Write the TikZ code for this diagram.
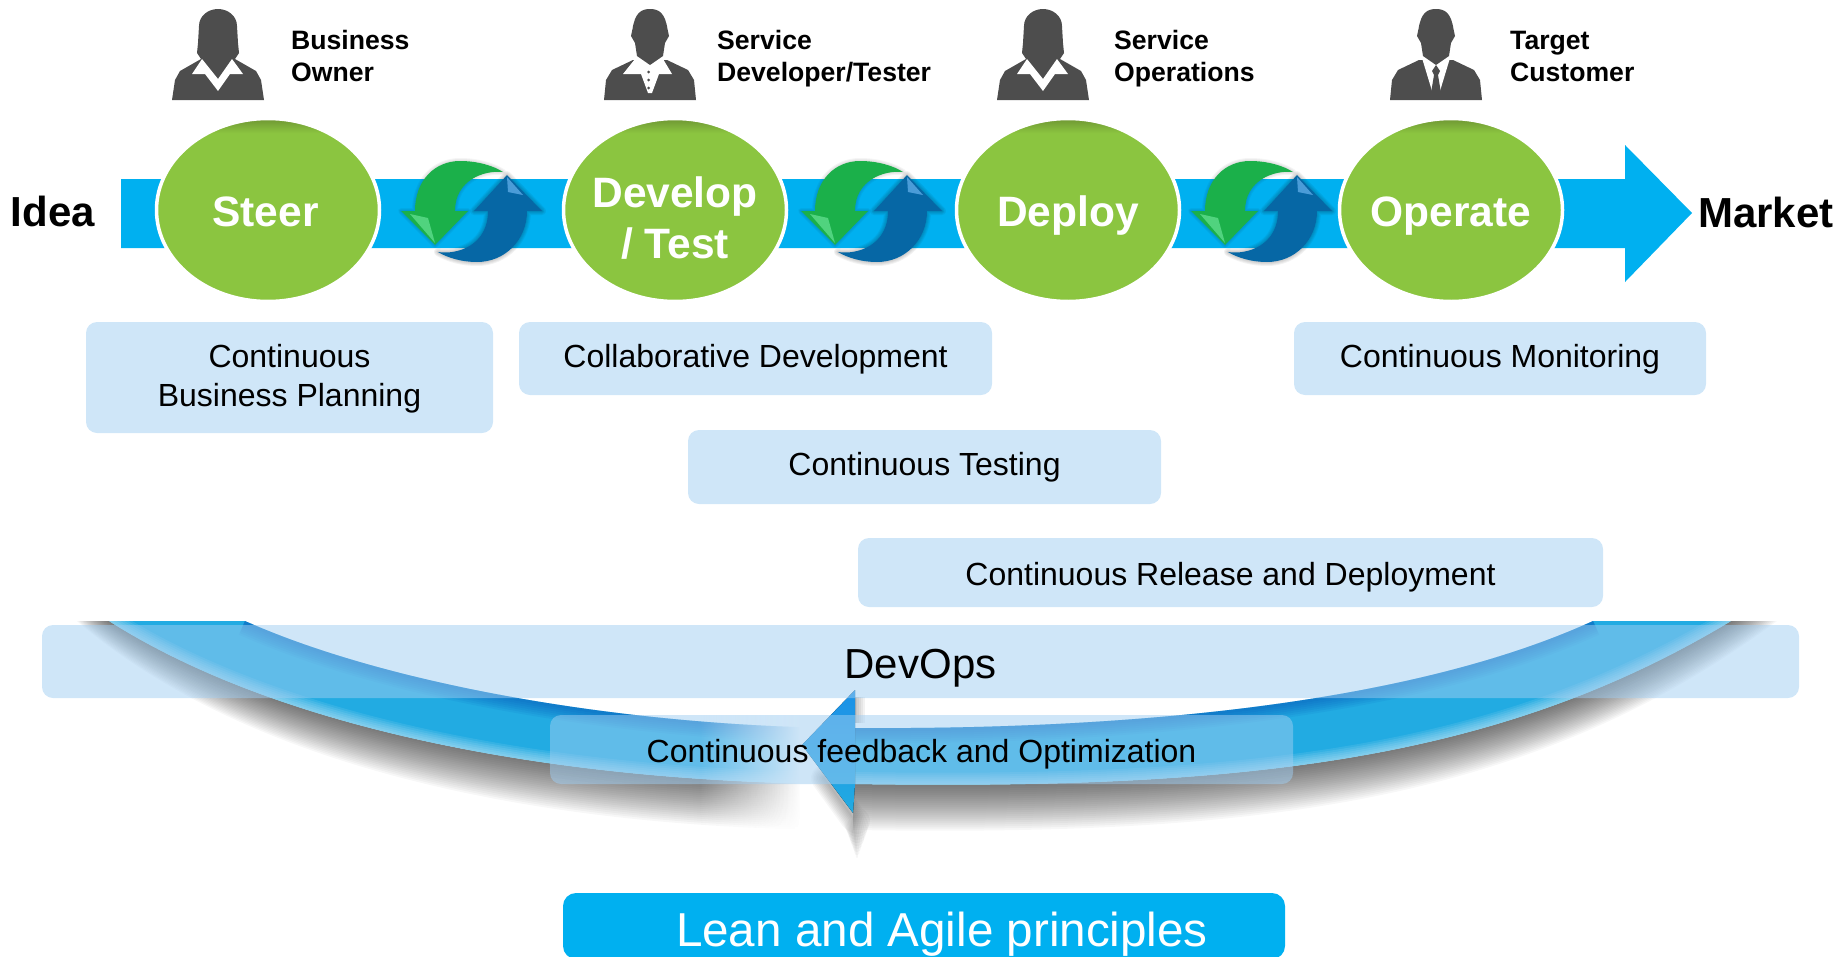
\documentclass[tikz,border=0pt]{standalone}
\usepackage{fontspec}
\setmainfont{Liberation Sans}
\usetikzlibrary{shapes,fadings}

\definecolor{bandblue}{HTML}{00B0F0}
\definecolor{stepgreen}{HTML}{8BC540}
\definecolor{stepdark}{HTML}{6E9633}
\definecolor{boxblue}{HTML}{9FCDF1}
\definecolor{personGrey}{HTML}{4D4D4D}
\definecolor{arcblue}{HTML}{22ABE2}

\pgfdeclareverticalshading{stepshade}{100bp}{color(0bp)=(stepgreen); color(71bp)=(stepgreen); color(75bp)=(stepdark); color(100bp)=(stepdark)}
\tikzfading[name=fadeband, left color=transparent!100, right color=transparent!0]

\tikzstyle{stage} = [draw=white, line width=3.5pt, ellipse, shading=stepshade, inner sep=0pt, minimum width=223pt, minimum height=183pt]
\tikzstyle{stagetext} = [inner sep=0pt, align=center, text=white, text height=33pt, text depth=0pt, font=\fontsize{42.5}{51}\selectfont\bfseries]
\tikzstyle{role} = [anchor=west, inner sep=0pt, align=left, font=\fontsize{26.6}{32}\selectfont\bfseries]
\tikzstyle{endlabel} = [inner sep=0pt, font=\fontsize{42}{49}\selectfont\bfseries]
\tikzstyle{block} = [fill=boxblue, fill opacity=.5, text opacity=1, rounded corners=11pt, inner sep=0pt, align=center, font=\fontsize{32}{39}\selectfont]

\newcommand{\greenswirl}{(-55,1) .. controls (-55,-30) and (-35,-49) .. (-10,-49) .. controls (8,-49) and (24,-44) .. (33,-38) .. controls (14,-40) and (-15,-30) .. (-15,1) -- (-2,1) -- (-35,35) -- (-69,1) -- cycle}
\newcommand{\blueswirl}{(57,1) .. controls (57,30) and (35,52) .. (7,52) .. controls (-8,52) and (-22,48) .. (-32,42) .. controls (-12,45) and (18,35) .. (18,1) -- (4,1) -- (37,-35) -- (72,1) -- cycle}
\newcommand{\arcband}{(109,621) .. controls (300,742) and (600,784) .. (855,784) .. controls (1250,790) and (1500,760) .. (1731,621) -- (1593,621) .. controls (1420,700) and (1150,730) .. (855,728) .. controls (650,728) and (400,690) .. (245,621) -- cycle}

\tikzset{
  pics/woman/.style={code={
    \fill [personGrey] (0,0) .. controls (-10,0) and (-19,7) .. (-19,17) -- (-20,34) -- (-21,44) -- (-17,50) -- (-38,62) -- (-43,71) -- (-46,91) -- (46,91) -- (43,71) -- (38,62) -- (17,50) -- (21,44) -- (20,34) -- (19,17) .. controls (19,7) and (10,0) .. (0,0) -- cycle;
    \fill [white] (-16,50) -- (-26,65) -- (-13,65) -- (0,82) -- (12,65) -- (25,65) -- (14,50) -- (0,70) -- cycle;
  }},
  pics/devman/.style={code={
    \fill [personGrey] (-17,51) -- (-38,61) -- (-44,71) -- (-46,91) -- (46,91) -- (44,71) -- (38,61) -- (17,51) -- cycle;
    \fill [white] (-15,50) -- (-27,65) -- (-9,65) -- (-2,84) -- (2,84) -- (9,65) -- (22,65) -- (13,50) -- cycle;
    \fill [personGrey] (0,0) .. controls (-9,0) and (-15,4) .. (-17.5,20) -- (-19,27) -- (-15,34) -- (-13,47) -- (0,56) -- (13,47) -- (15,34) -- (19,27) -- (17.5,20) .. controls (15,4) and (9,0) .. (0,0) -- cycle;
    \foreach \dy in {63,71,79} \fill [personGrey] (-1.5,\dy) circle [radius=1.5];
  }},
  pics/suitman/.style={code={
    \fill [personGrey] (-17,51) -- (-38,61) -- (-44,71) -- (-46,91) -- (46,91) -- (44,71) -- (38,61) -- (17,51) -- cycle;
    \fill [white] (-14,49) -- (-4,82) -- (4,82) -- (14,49) -- cycle;
    \fill [personGrey] (0,0) .. controls (-9,0) and (-15,4) .. (-17.5,20) -- (-19,27) -- (-15,34) -- (-13,47) -- (0,56) -- (13,47) -- (15,34) -- (19,27) -- (17.5,20) .. controls (15,4) and (9,0) .. (0,0) -- cycle;
    \fill [personGrey] (0,56) -- (-4,62) -- (-2,66) -- (-5,84) -- (5,84) -- (2,66) -- (4,62) -- cycle;
  }},
  pics/swirl/.style={code={
    \foreach \w in {2,4,6,8} \draw [black, opacity=.05, line width=\w pt, line join=round] \blueswirl;
    \foreach \w in {2,4,6} \draw [black, opacity=.04, line width=\w pt, line join=round] \greenswirl;
    \fill [fill={rgb,255:red,27;green,176;blue,74}] \greenswirl;
    \fill [fill={rgb,255:red,6;green,103;blue,165}] \blueswirl;
    \fill [fill={rgb,255:red,80;green,211;blue,126}] (-60,4) -- (-42,8) -- (-35,33) -- cycle;
    \fill [fill={rgb,255:red,74;green,156;blue,216}] (37,-33) -- (53,-15) -- (38,-18) -- cycle;
  }}
}

\begin{document}
\begin{tikzpicture}[x=1pt,y=-1pt]
    \useasboundingbox (0,0) rectangle (1845,956);

    \begin{scope}
        \clip (0,621) rectangle (1845,956);
        \foreach \d in {2,4,...,46}
            \fill [black, opacity=.03] (109-\d*.7,621) .. controls (300-\d*.6,742+\d) and (600,784+\d) .. (855,784+\d) .. controls (1250,790+\d) and (1500+\d*.6,760+\d) .. (1731+\d,621) -- (1731,621) .. controls (1500,760) and (1250,790) .. (855,784) .. controls (600,784) and (300,742) .. (109,621) -- cycle;
        \fill [arcblue] \arcband;
        \begin{scope}
            \clip \arcband;
            \foreach \w in {6,10,...,30}
                \draw [blue!60!cyan!70!black, opacity=.08, line width=\w pt] (245,621) .. controls (400,690) and (650,728) .. (855,728) .. controls (1150,730) and (1420,700) .. (1593,621);
            \foreach \w in {4,8,...,24}
                \draw [white, opacity=.09, line width=\w pt] (109,621) .. controls (300,742) and (600,784) .. (855,784) .. controls (1250,790) and (1500,760) .. (1731,621);
        \end{scope}
        \fill [white, path fading=fadeband] (700,700) rectangle (800,880);
        \fill [white] (800,700) rectangle (853,880);
    \end{scope}
    \foreach \w in {2,5,...,26}
        \draw [black, opacity=.035, line width=\w pt, line cap=round, line join=round] (824,778) -- (853,818) -- (857,860-\w*1.5);
    \foreach \d in {2,4,...,10}
        \fill [black, opacity=.05] (855,697) rectangle (855+\d,723);
    \fill [top color=arcblue!85!blue, bottom color=arcblue] (855,690) -- (802,745) -- (853,813) -- (855,784) -- (855,728) -- cycle;

    \fill [bandblue] (121,179) -- (1625,179) -- (1625,145) -- (1692,213) -- (1625,282) -- (1625,248) -- (121,248) -- cycle;

    \node [endlabel, name = idea] at (53,211) {Idea};
    \node [endlabel, name = market] at (1766,212) {Market};

    \node [stage, label={[stagetext]center:\hspace*{-5pt}Steer}, name = steer] at (268,210) {};
    \node [stage, label={[stagetext, text height=, text depth=]center:\rule{0pt}{46pt}Develop\\/ Test}, name = develop] at (675,210) {};
    \node [stage, label={[stagetext]center:Deploy}, name = deploy] at (1068,210) {};
    \node [stage, label={[stagetext]center:Operate}, name = operate] at (1451,210) {};

    \pic at (470,210) {swirl};
    \pic at (870,210) {swirl};
    \pic at (1260,210) {swirl};

    \pic at (218,9) {woman};
    \pic at (650,9) {devman};
    \pic at (1043,9) {woman};
    \pic at (1436,9) {suitman};

    \node [role, name = owner] at (291,61) {Business\\Owner\strut};
    \node [role, name = tester] at (717,61) {Service\\Developer/Tester\strut};
    \node [role, name = operations] at (1114,61) {Service\\Operations\strut};
    \node [role, name = customer] at (1510,61) {Target\\Customer\strut};

    \node [block, minimum width=407pt, minimum height=111pt, name = planning] at (289.5,377.5) {\rule{0pt}{25.5pt}Continuous\\Business Planning};
    \node [block, minimum width=473pt, minimum height=73pt, text height=18pt, text depth=0pt, name = collab] at (755.5,358.5) {Collaborative Development};
    \node [block, minimum width=412pt, minimum height=73pt, text height=18pt, text depth=0pt, name = monitoring] at (1500,358.5) {Continuous Monitoring};
    \node [block, minimum width=473pt, minimum height=74pt, text height=17pt, text depth=0pt, name = testing] at (924.5,467) {Continuous Testing};
    \node [block, minimum width=745pt, minimum height=69pt, text height=26pt, text depth=0pt, name = release] at (1230.5,572.5) {Continuous Release and Deployment};
    \node [block, minimum width=1757pt, minimum height=73pt, text height=34pt, text depth=0pt, font=\fontsize{42}{50}\selectfont, name = devops] at (920.5,661.5) {DevOps};
    \node [block, minimum width=743pt, minimum height=69pt, text height=26pt, text depth=0pt, name = feedback] at (921.5,749.5) {Continuous feedback and Optimization};
    \node [fill=bandblue, rounded corners=13pt, inner sep=0pt, minimum width=722pt, minimum height=66pt, text=white, text height=40pt, text depth=0pt, font=\fontsize{47.6}{54}\selectfont, name = lean] at (924,926) {\hspace*{36pt}Lean and Agile principles};

\end{tikzpicture}
\end{document}
